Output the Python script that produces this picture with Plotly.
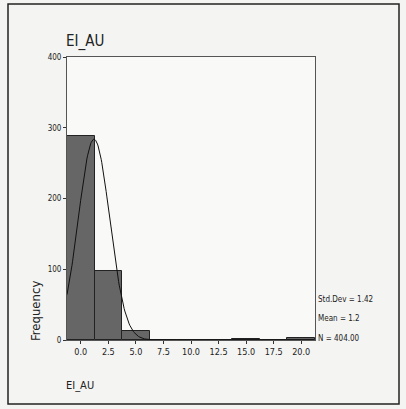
import numpy as np
import plotly.graph_objects as go

# Data
bin_centers = [0.0, 2.5, 5.0, 7.5, 10.0, 12.5, 15.0, 17.5, 20.0]
frequencies = [288, 98, 13, 0, 0, 0, 2, 0, 3]
bin_width = 2.5
x_ticks = [0.0, 2.5, 5.0, 7.5, 10.0, 12.5, 15.0, 17.5, 20.0]
x_tick_labels = ["0.0", "2.5", "5.0", "7.5", "10.0", "12.5", "15.0", "17.5", "20.0"]
y_ticks = [0, 100, 200, 300, 400]
std_dev = 1.42
mean = 1.2
n = 404.00
title = "EI_AU"

# Pixel layout helpers
W, H = 406, 409
L, R, T, B = 67, 315, 57, 340
def px(xp):
    return (xp - L) / (R - L)
def py(yp):
    return (B - yp) / (B - T)

FONT = "DejaVu Sans Condensed"

fig = go.Figure()
fig.add_trace(go.Bar(
    x=bin_centers, y=frequencies, width=bin_width,
    marker=dict(color="#666666", line=dict(color="#222222", width=1)),
    showlegend=False,
))

xs = np.linspace(-1.25, 21.25, 400)
curve = n * bin_width / (std_dev * np.sqrt(2 * np.pi)) * np.exp(-0.5 * ((xs - mean) / std_dev) ** 2)
fig.add_trace(go.Scatter(x=xs, y=curve, mode="lines",
                         line=dict(color="#111111", width=1), showlegend=False))

fig.update_layout(
    width=W, height=H,
    margin=dict(l=L, r=W - R, t=T, b=H - B),
    paper_bgcolor="#f4f4f2", plot_bgcolor="#f9f9f7",
    font=dict(family=FONT, color="#222222"),
    bargap=0,
    xaxis=dict(range=[-1.25, 21.25], tickvals=x_ticks, ticktext=x_tick_labels,
               showgrid=False, zeroline=False, showline=True, linecolor="#555555",
               mirror=True, ticks="outside", ticklen=3, tickcolor="#333333",
               tickfont=dict(size=9, family=FONT)),
    yaxis=dict(range=[0, 400], tickvals=y_ticks,
               showgrid=False, zeroline=False, showline=True, linecolor="#555555",
               mirror=True, ticks="outside", ticklen=3, tickcolor="#333333",
               tickfont=dict(size=8, family=FONT)),
)

ann = [
    dict(text=title, x=px(64), y=py(41), xanchor="left", yanchor="middle", font=dict(size=15)),
    dict(text="Frequency", x=px(35), y=py(311), xanchor="center", yanchor="middle",
         textangle=-90, font=dict(size=13)),
    dict(text=title, x=px(64), y=py(385), xanchor="left", yanchor="middle", font=dict(size=11)),
    dict(text="Std.Dev = %.2f" % std_dev, x=px(316), y=py(299), xanchor="left", yanchor="middle", font=dict(size=8)),
    dict(text="Mean = %.1f" % mean, x=px(316), y=py(318), xanchor="left", yanchor="middle", font=dict(size=8)),
    dict(text="N = %.2f" % n, x=px(316), y=py(338), xanchor="left", yanchor="middle", font=dict(size=8)),
]
for a in ann:
    fig.add_annotation(xref="paper", yref="paper", showarrow=False, **a)

fig.add_shape(type="rect", xref="paper", yref="paper",
              x0=px(8), x1=px(399), y0=py(404), y1=py(4),
              line=dict(color="#222222", width=1.5), layer="below")

fig.write_html("out.html", config={"displayModeBar": False},
               post_script="document.body.style.margin='0';document.body.style.overflow='hidden';")
